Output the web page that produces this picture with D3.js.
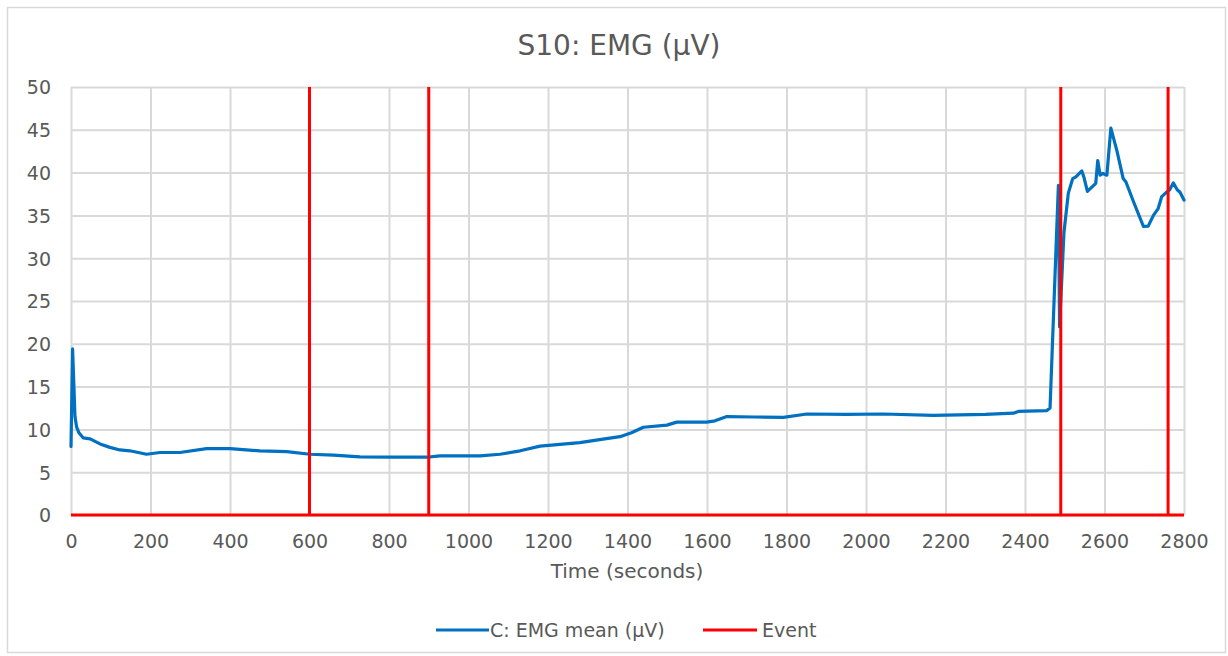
<!DOCTYPE html>
<html><head><meta charset="utf-8">
<script src="https://cdn.jsdelivr.net/npm/d3@7"></script>
<style>body{margin:0;background:#fff;} svg{display:block;}</style>
</head><body>
<svg id="chart" width="1228" height="656"></svg>
<script>
const title = "S10: EMG (µV)";
const xLabel = "Time (seconds)";
const seriesNames = ["C: EMG mean (µV)", "Event"];
const xTicks = [0,200,400,600,800,1000,1200,1400,1600,1800,2000,2200,2400,2600,2800];
const yTicks = [0,5,10,15,20,25,30,35,40,45,50];
const emgTime = [0,4,10,14,20,31,48,73,98,123,148,190,224,274,341,400,475,543,601,660,727,803,895,928,1029,1079,1130,1180,1230,1280,1330,1381,1410,1440,1499,1524,1599,1620,1650,1720,1792,1851,1950,2044,2169,2300,2371,2383,2455,2463,2484,2487,2498,2509,2520,2528,2543,2548,2557,2578,2583,2589,2596,2606,2616,2631,2647,2654,2673,2698,2710,2723,2735,2744,2756,2764,2773,2783,2790,2800];
const emgValue = [8.0,19.4,11.5,10.3,9.6,9.0,8.9,8.3,7.9,7.6,7.5,7.1,7.3,7.3,7.75,7.75,7.5,7.4,7.1,7.0,6.8,6.75,6.75,6.9,6.9,7.1,7.5,8.05,8.25,8.45,8.8,9.15,9.6,10.25,10.5,10.85,10.85,11.0,11.5,11.45,11.4,11.8,11.75,11.8,11.65,11.75,11.9,12.1,12.2,12.5,38.5,22.0,33.0,37.6,39.3,39.5,40.2,39.5,37.8,38.75,41.4,39.7,39.9,39.7,45.2,42.6,39.3,38.9,36.6,33.7,33.75,35.0,35.8,37.2,37.7,38.0,38.8,38.0,37.7,36.8];
const eventTime = [0,600,600,600,900,900,900,2490,2490,2490,2760,2760,2760,2800];
const eventValue = [0,0,50,0,0,50,0,0,50,0,0,50,0,0];

const svg = d3.select("#chart");
const font = "'DejaVu Sans', 'Open Sans', sans-serif";
const grey = "#595959";
const mLeft = 71, mRight = 1184, mTop = 87, mBottom = 515;
const x = d3.scaleLinear().domain([0,2800]).range([mLeft,mRight]);
const y = d3.scaleLinear().domain([0,50]).range([mBottom,mTop]);

svg.append("rect").attr("x",7.5).attr("y",7.5).attr("width",1218).attr("height",645)
  .attr("fill","#fff").attr("stroke","#d9d9d9").attr("stroke-width",1.5);

svg.append("text").attr("x",619).attr("y",55).attr("text-anchor","middle")
  .attr("font-family",font).attr("font-size",28).attr("fill",grey).text(title);

// gridlines
const gy = svg.append("g").attr("transform",`translate(${mLeft},0)`)
  .call(d3.axisLeft(y).tickValues(yTicks).tickSize(-(mRight-mLeft)).tickFormat(""));
const gx = svg.append("g").attr("transform",`translate(0,${mBottom})`)
  .call(d3.axisBottom(x).tickValues(xTicks).tickSize(-(mBottom-mTop)).tickFormat(""));
[gy,gx].forEach(g=>{g.select(".domain").remove();
  g.selectAll("line").attr("stroke","#d9d9d9").attr("stroke-width",2);});

// tick labels
const ay = svg.append("g").attr("transform",`translate(${mLeft-20},0)`)
  .call(d3.axisLeft(y).tickValues(yTicks).tickSize(0).tickPadding(0));
ay.select(".domain").remove();
ay.selectAll("text").attr("font-family",font).attr("font-size",19).attr("fill",grey).attr("dy","0.36em");
const ax = svg.append("g").attr("transform",`translate(0,${mBottom+33})`)
  .call(d3.axisBottom(x).tickValues(xTicks).tickSize(0).tickPadding(0).tickFormat(d3.format("d")));
ax.select(".domain").remove();
ax.selectAll("text").attr("font-family",font).attr("font-size",19).attr("fill",grey).attr("dy",0);

svg.append("text").attr("x",627).attr("y",578).attr("text-anchor","middle")
  .attr("font-family",font).attr("font-size",20).attr("fill",grey).text(xLabel);

const line = d3.line().x(d=>x(d[0])).y(d=>y(d[1]));
svg.append("path").datum(emgTime.map((t,i)=>[t,emgValue[i]]))
  .attr("d",line).attr("fill","none").attr("stroke","#0070C0").attr("stroke-width",3.2)
  .attr("stroke-linejoin","round").attr("stroke-linecap","round");
svg.append("path").datum(eventTime.map((t,i)=>[t,eventValue[i]]))
  .attr("d",line).attr("fill","none").attr("stroke","#FF0000").attr("stroke-width",3);

// legend
const leg = [{name:seriesNames[0],color:"#0070C0",x0:436,x1:489,tx:490},
             {name:seriesNames[1],color:"#FF0000",x0:703,x1:757,tx:762}];
leg.forEach(l=>{
  svg.append("line").attr("x1",l.x0).attr("x2",l.x1).attr("y1",630).attr("y2",630)
    .attr("stroke",l.color).attr("stroke-width",3);
  svg.append("text").attr("x",l.tx).attr("y",637).attr("font-family",font)
    .attr("font-size",19).attr("fill",grey).text(l.name);
});
</script>
</body></html>
